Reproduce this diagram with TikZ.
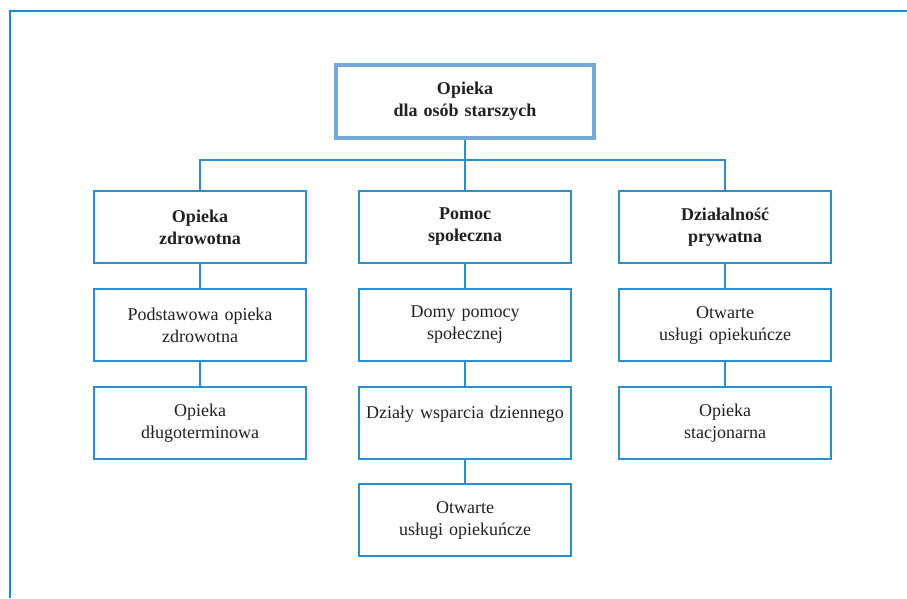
\documentclass[tikz,border=0pt]{standalone}
\usepackage{fontspec}
\setmainfont{Liberation Serif}
\definecolor{frameblue}{HTML}{1A8AD6}
\definecolor{boxblue}{HTML}{2A8FD0}
\definecolor{topblue}{HTML}{76A8D8}
\definecolor{txt}{HTML}{231F20}
\begin{document}
\begin{tikzpicture}[x=1pt,y=-1pt,
  box/.style={draw=boxblue, line width=1.3pt, minimum width=212pt, minimum height=72pt,
    text width=208pt, align=center, inner sep=0pt, text=txt,
    font=\fontsize{18}{22}\selectfont},
  headbox/.style={box, font=\fontsize{18}{22}\selectfont\bfseries},
  topbox/.style={draw=topblue, line width=4pt, minimum width=258pt, minimum height=73pt,
    text width=250pt, align=center, inner sep=0pt, text=txt,
    font=\fontsize{18}{22}\selectfont\bfseries},
  link/.style={draw=boxblue, line width=1.3pt},
  frame/.style={draw=frameblue, line width=2pt}]
\useasboundingbox (0,0) rectangle (907,598);
\draw[frame] (9.5,598) -- (9.5,10.5) -- (907,10.5);

\node[topbox] (top) at (465,101.5) {Opieka\\dla osób starszych};

\node[headbox] (h1) at (200,227) {Opieka\\zdrowotna};
\node[headbox] (h2) at (465,227) {Pomoc\\społeczna};
\node[headbox] (h3) at (725,227) {Działalność\\prywatna};

\node[box] (a1) at (200,325) {Podstawowa opieka\\zdrowotna};
\node[box] (a2) at (200,423) {Opieka\\długoterminowa};

\node[box] (b1) at (465,325) {Domy pomocy\\społecznej};
\node[box] (b2) at (465,423) {Działy wsparcia dziennego\\\mbox{}};
\node[box] (b3) at (465,520) {Otwarte\\usługi opiekuńcze};

\node[box] (c1) at (725,325) {Otwarte\\usługi opiekuńcze};
\node[box] (c2) at (725,423) {Opieka\\stacjonarna};

\coordinate (j) at (465,160);
\draw[link] (top.south) -- (j);
\draw[link] (h1.north) |- (j) -| (h3.north);
\draw[link] (j) -- (h2.north);

\draw[link] (h1) -- (a1);
\draw[link] (a1) -- (a2);
\draw[link] (h2) -- (b1);
\draw[link] (b1) -- (b2);
\draw[link] (b2) -- (b3);
\draw[link] (h3) -- (c1);
\draw[link] (c1) -- (c2);
\end{tikzpicture}
\end{document}
